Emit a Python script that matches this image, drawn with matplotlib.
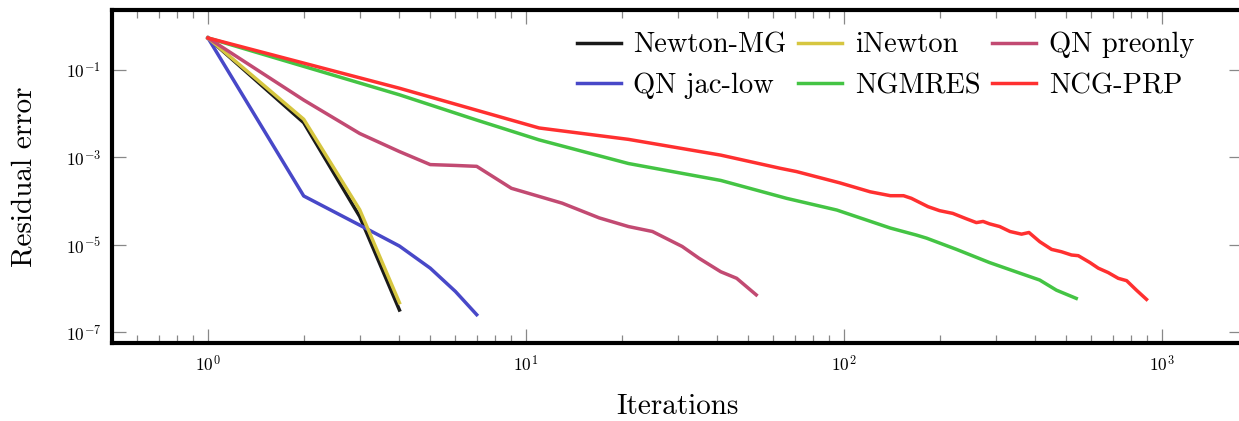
import matplotlib
matplotlib.use("Agg")
import matplotlib.pyplot as plt
from matplotlib.ticker import FixedLocator, LogLocator, NullLocator, NullFormatter

plt.rcParams['font.family'] = 'serif'
plt.rcParams['font.serif'] = ['cmr10']
plt.rcParams['mathtext.fontset'] = 'cm'
plt.rcParams['axes.formatter.use_mathtext'] = True

# residual histories
newton_it = [1, 2, 3, 4]
newton_res = [0.537, 6.2e-3, 4.4e-5, 3.2e-7]

inewton_it = [1, 2, 3, 4]
inewton_res = [0.537, 7.4e-3, 6.3e-5, 4.7e-7]

jaclow_it = [1, 2, 3, 4, 5, 6, 7]
jaclow_res = [0.537, 1.3e-4, 2.8e-5, 9.3e-6, 2.9e-6, 8.5e-7, 2.5e-7]

preonly_it = [1, 2, 3, 4, 5, 6, 7, 9, 13, 17, 21, 25, 31, 35, 41, 46, 53]
preonly_res = [0.537, 2.04e-2, 3.5e-3, 1.35e-3, 6.8e-4, 6.5e-4, 6.2e-4, 1.95e-4,
               8.9e-5, 4.1e-5, 2.6e-5, 2.0e-5, 9.1e-6, 4.9e-6, 2.4e-6, 1.7e-6, 7.1e-7]

ngmres_it = [1, 4, 7, 11, 21, 41, 66, 95, 140, 169, 182, 226, 287, 357, 413, 466, 538]
ngmres_res = [0.537, 2.69e-2, 7.1e-3, 2.5e-3, 7.2e-4, 2.95e-4, 1.15e-4, 6.2e-5, 2.4e-5,
              1.66e-5, 1.41e-5, 7.8e-6, 3.9e-6, 2.24e-6, 1.55e-6, 9.1e-7, 5.9e-7]

ncg_it = [1, 4, 11, 21, 41, 63, 71, 97, 121, 140, 154, 163, 184, 200, 220, 243, 261,
          274, 287, 309, 333, 362, 382, 413, 450, 483, 520, 546, 594, 631, 678, 729,
          775, 832, 895]
ncg_res = [0.537, 3.8e-2, 4.68e-3, 2.57e-3, 1.12e-3, 5.6e-4, 4.7e-4, 2.6e-4, 1.62e-4,
           1.32e-4, 1.32e-4, 1.15e-4, 7.4e-5, 6.0e-5, 5.2e-5, 3.9e-5, 3.2e-5, 3.4e-5,
           3.0e-5, 2.6e-5, 2.0e-5, 1.74e-5, 1.9e-5, 1.17e-5, 7.8e-6, 6.9e-6, 5.8e-6,
           5.6e-6, 3.9e-6, 2.9e-6, 2.3e-6, 1.7e-6, 1.5e-6, 9.1e-7, 5.6e-7]

W, H = 1239, 421
fig = plt.figure(figsize=(W / 100, H / 100), dpi=100)
ax = fig.add_axes([112.3 / W, 1 - 343 / H, (1243 - 112.3) / W, 333 / H])

lw = 2.5
ax.plot(newton_it, newton_res, color='#1a1a1a', lw=lw, label='Newton-MG')
ax.plot(jaclow_it, jaclow_res, color='#4848c8', lw=lw, label='QN jac-low')
ax.plot(inewton_it, inewton_res, color='#d6c640', lw=lw, label='iNewton')
ax.plot(ngmres_it, ngmres_res, color='#44c444', lw=lw, label='NGMRES')
ax.plot(preonly_it, preonly_res, color='#c24a72', lw=lw, label='QN preonly')
ax.plot(ncg_it, ncg_res, color='#ff3030', lw=lw, label='NCG-PRP')

ax.set_xscale('log')
ax.set_yscale('log')
ax.set_xlim(0.5, 1800)
ax.set_ylim(10 ** -7.25, 10 ** 0.37)

ax.yaxis.set_major_locator(FixedLocator([1e-7, 1e-5, 1e-3, 1e-1]))
ax.yaxis.set_minor_locator(NullLocator())
ax.xaxis.set_major_locator(LogLocator(base=10))
ax.xaxis.set_minor_locator(LogLocator(base=10, subs=range(2, 10)))
ax.xaxis.set_minor_formatter(NullFormatter())

for s in ax.spines.values():
    s.set_linewidth(3.0)
ax.tick_params(which='both', direction='in', top=True, right=True, color='#888888',
               width=0.9, labelsize=12.5, pad=8)
ax.tick_params(which='major', length=10)
ax.tick_params(which='minor', length=6)

ax.set_xlabel('Iterations', fontsize=21, labelpad=14)
ax.set_ylabel('Residual error', fontsize=21, labelpad=20)

ax.legend(ncol=3, loc='upper right', bbox_to_anchor=(0.957, 0.934), frameon=False,
          fontsize=20.5, handlelength=1.55, handletextpad=0.45, columnspacing=0.4,
          labelspacing=0.5, borderpad=0, borderaxespad=0)

fig.savefig('out.png', dpi=100)
